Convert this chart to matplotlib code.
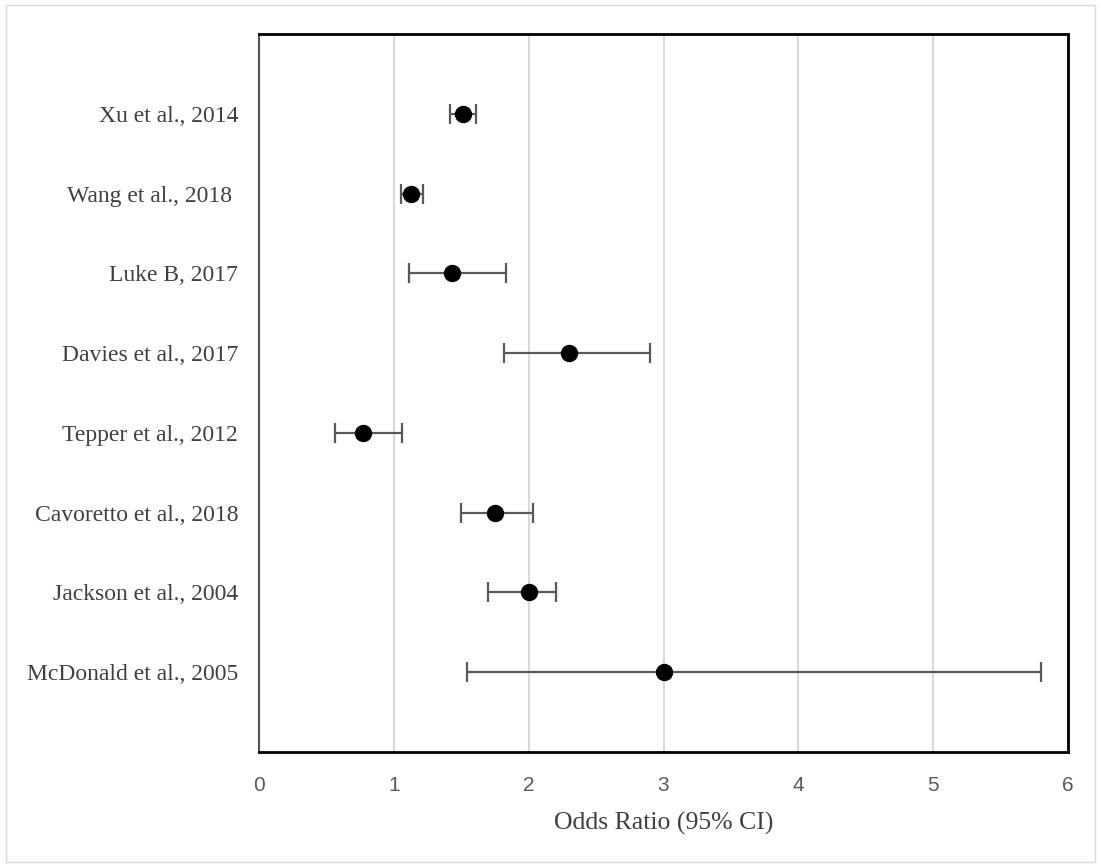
import matplotlib.pyplot as plt
from matplotlib.patches import Rectangle

studies = ['Xu et al., 2014', 'Wang et al., 2018 ', 'Luke B, 2017', 'Davies et al., 2017',
           'Tepper et al., 2012', 'Cavoretto et al., 2018', 'Jackson et al., 2004',
           'McDonald et al., 2005']
odds = [1.51, 1.13, 1.43, 2.30, 0.77, 1.75, 2.00, 3.00]
ci_low = [1.42, 1.05, 1.11, 1.82, 0.56, 1.50, 1.70, 1.54]
ci_high = [1.61, 1.22, 1.83, 2.90, 1.06, 2.03, 2.20, 5.80]
ypos = [8, 7, 6, 5, 4, 3, 2, 1]

fig = plt.figure(figsize=(11.01, 8.68), dpi=100)
ax = fig.add_axes([259/1101, 1-752/868, (1068-259)/1101, (752-34)/868])

err = [[o - l for o, l in zip(odds, ci_low)], [h - o for o, h in zip(odds, ci_high)]]
ax.errorbar(odds, ypos, xerr=err, fmt='o', color='black', markersize=11.5,
            ecolor='#595959', elinewidth=1.6, capsize=7, capthick=1.6, zorder=3)

ax.set_xlim(0, 6)
ax.set_ylim(0, 9)
ax.set_xticks(range(7))
ax.set_yticks(ypos)
ax.set_yticklabels(studies, family=['Liberation Serif', 'DejaVu Serif'], fontsize=17, color='#404040')
ax.tick_params(axis='y', length=0, pad=15)
ax.tick_params(axis='x', length=0, pad=17, labelsize=15, labelcolor='#595959')
for t in ax.get_xticklabels():
    t.set_family(['Liberation Sans Narrow', 'Liberation Sans', 'DejaVu Sans'])
ax.grid(axis='x', color='#d9d9d9', linewidth=1.5, zorder=0)
ax.set_axisbelow(True)
for s in ['top', 'right', 'bottom']:
    ax.spines[s].set_linewidth(2)
    ax.spines[s].set_color('black')
ax.spines['left'].set_linewidth(1.5)
ax.spines['left'].set_color('#555555')

ax.set_xlabel('Odds Ratio (95% CI)', family=['Liberation Serif', 'DejaVu Serif'],
              fontsize=18.5, color='#404040')
ax.xaxis.set_label_coords(0.5, -(812 - 752) / 718)

fig.patches.append(Rectangle((6/1101, 6/868), 1089/1101, 857/868, transform=fig.transFigure,
                             fill=False, edgecolor='#d9d9d9', linewidth=1))

fig.savefig('out.png', dpi=100)
